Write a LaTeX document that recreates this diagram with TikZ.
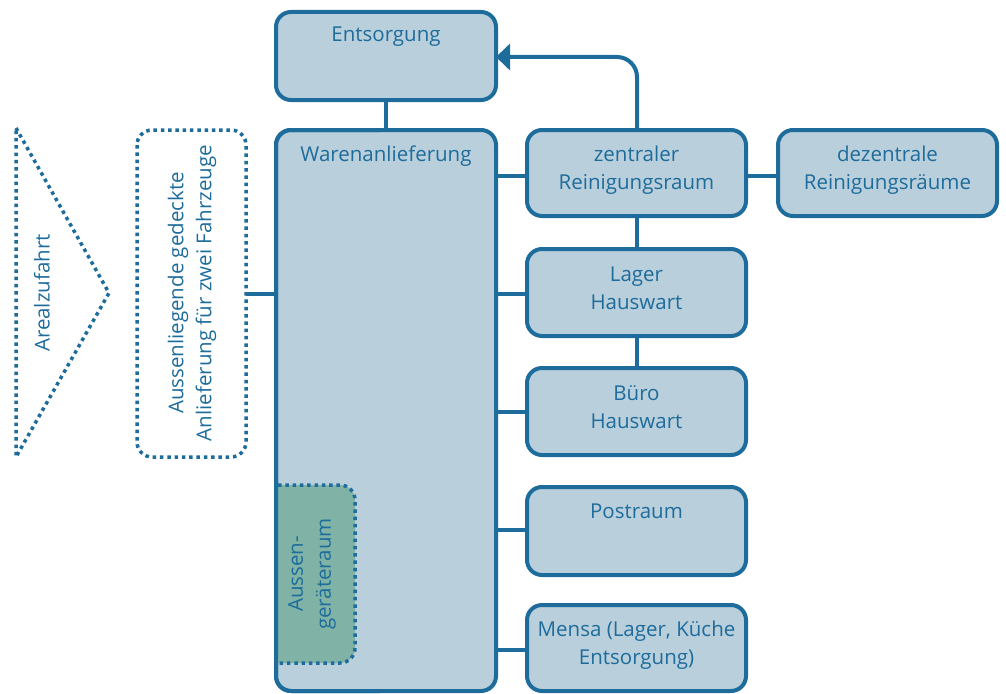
\documentclass[tikz,border=0pt]{standalone}
\usepackage{fontspec}
\setmainfont{Open Sans}
\usetikzlibrary{arrows.meta}
\definecolor{strk}{HTML}{1D6C9B}
\definecolor{lfill}{HTML}{B9CFDC}
\definecolor{gfill}{HTML}{80B3A6}
\tikzset{
  box/.style={draw=strk, fill=lfill, line width=4pt, rounded corners=15pt},
  lbl/.style={text=strk, font=\fontsize{20.5}{28}\selectfont, align=center, inner sep=0pt},
  con/.style={draw=strk, line width=4pt},
  dots/.style={draw=strk, line width=3.5pt, dash pattern=on 3.5pt off 3.8pt},
}
\begin{document}
\begin{tikzpicture}[x=1pt,y=-1pt]
\useasboundingbox (0,0) rectangle (1006,693);
% boxes
\path[box] (276,12) rectangle (496,100);
\path[box] (276,130) rectangle (496,691);
\path[box] (527,130) rectangle (746,216);
\path[box] (778,130) rectangle (997,216);
\path[box] (527,249) rectangle (746,336);
\path[box] (527,368) rectangle (746,455);
\path[box] (527,487) rectangle (746,575);
\path[box] (527,605) rectangle (746,691);
% Aussengeraeteraum
\fill[gfill] (278,485) [rounded corners=15pt] -- (355,485) -- (355,663) [sharp corners] -- (278,663) -- cycle;
\draw[dots] (278,485) [rounded corners=15pt] -- (355,485) -- (355,663) [sharp corners] -- (278,663);
\draw[draw=strk, line width=4pt, rounded corners=15pt] (380,691) -- (276,691) -- (276,130) -- (380,130);
% nodes (text)
\node[lbl, anchor=center] (entsorgung) at (386,37) {Entsorgung};
\node[lbl, anchor=center] (waren) at (386,156) {Warenanlieferung};
\node[lbl] (zentral) at (636.5,170) {zentraler\\Reinigungsraum};
\node[lbl] (dezentral) at (887.5,170) {dezentrale\\Reinigungsräume};
\node[lbl] (lager) at (636.5,288) {Lager\\Hauswart};
\node[lbl] (buero) at (636.5,407) {Büro\\Hauswart};
\node[lbl, anchor=center] (post) at (636.5,511) {Postraum};
\node[lbl] (mensa) at (636.5,645) {Mensa (Lager, Küche\\Entsorgung)};
\node[lbl, rotate=90] (geraet) at (312,574) {Aussen-\\geräteraum};
\node[lbl, rotate=90] (anlief) at (192,293) {Aussenliegende gedeckte\\Anlieferung für zwei Fahrzeuge};
\node[lbl, rotate=90] (areal) at (42,293) {Arealzufahrt};
% anchor coordinates
\coordinate (eB) at (386,100);
\coordinate (wT) at (386,130);
\coordinate (eR) at (496,57);
\coordinate (zT) at (637,130);
\coordinate (zB) at (637,216);
\coordinate (lT) at (637,249);
\coordinate (lB) at (637,336);
\coordinate (bT) at (637,368);
\coordinate (zR) at (746,176);
\coordinate (dL) at (778,176);
\coordinate (wL) at (276,294);
\coordinate (aR) at (246,294);
% connectors
\draw[con] (eB) -- (wT);
\foreach \y in {176,294,412,530,650} \draw[con] (496,\y) -- (527,\y);
\draw[con] (zR) -- (dL);
\draw[con] (zB) -- (lT);
\draw[con] (lB) -- (bT);
\draw[con] (wL) -- (aR);
\draw[con, rounded corners=20pt, -{Triangle[length=14pt,width=26pt]}] (zT) -- (637,57) -- (eR);
% dotted shapes
\draw[dots, rounded corners=15pt] (137,130) rectangle (246,457);
\draw[dots] (16,128) -- (109,293) -- (16,457) -- cycle;
\end{tikzpicture}
\end{document}
